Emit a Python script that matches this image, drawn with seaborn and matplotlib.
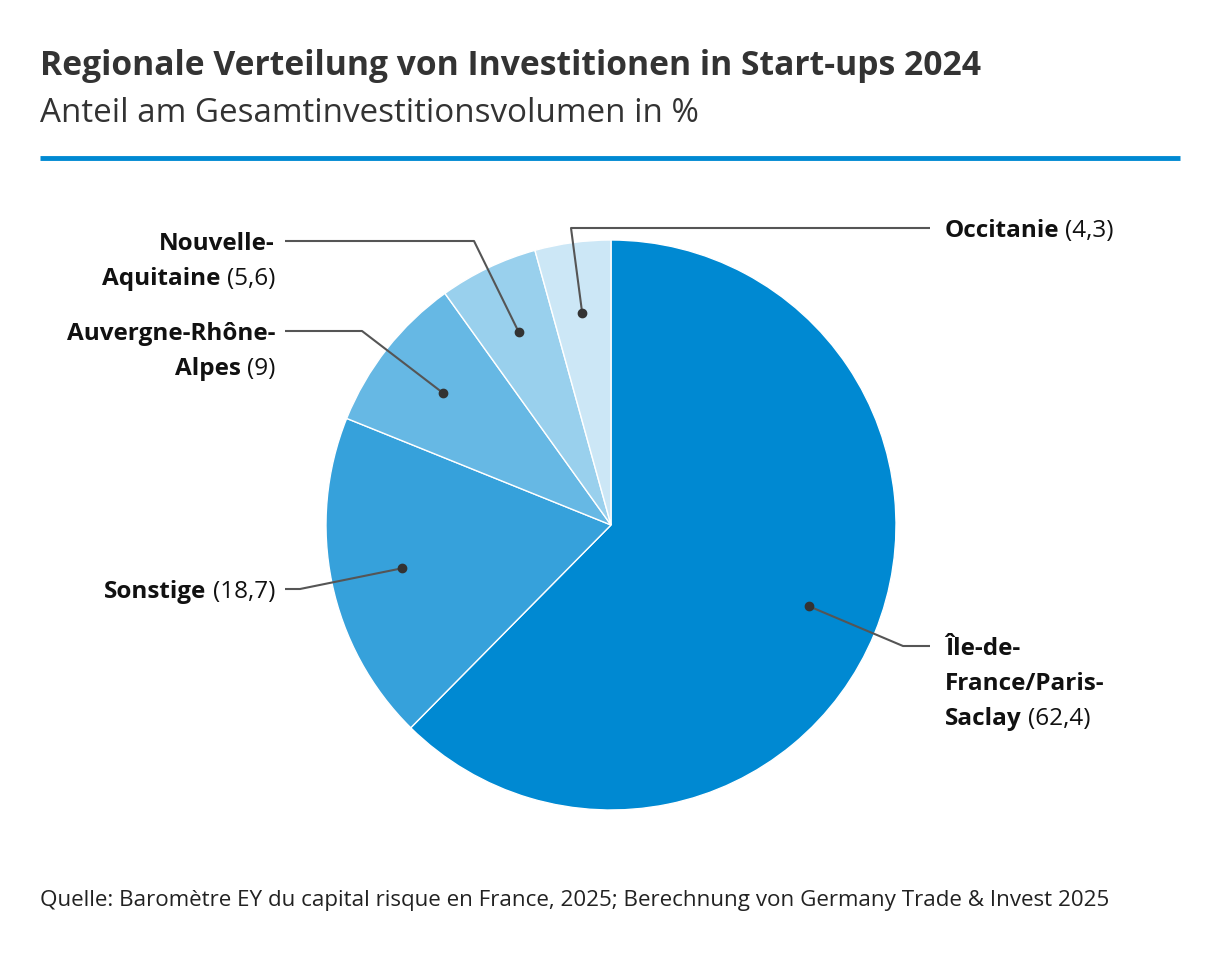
import numpy as np
import matplotlib
matplotlib.use("Agg")
import matplotlib.pyplot as plt
import seaborn as sns

# ---------- data ----------
regions = ["Île-de-France/Paris-Saclay", "Sonstige", "Auvergne-Rhône-Alpes",
           "Nouvelle-Aquitaine", "Occitanie"]
shares = [62.4, 18.7, 9.0, 5.6, 4.3]
value_labels = ["62,4", "18,7", "9", "5,6", "4,3"]
label_lines = [["Île-de-", "France/Paris-", "Saclay"],
               ["Sonstige"],
               ["Auvergne-Rhône-", "Alpes"],
               ["Nouvelle-", "Aquitaine"],
               ["Occitanie"]]
colors = ["#0089d2", "#36a1db", "#66b8e4", "#99d0ed", "#cce7f6"]

title = "Regionale Verteilung von Investitionen in Start-ups 2024"
subtitle = "Anteil am Gesamtinvestitionsvolumen in %"
source = "Quelle: Baromètre EY du capital risque en France, 2025; Berechnung von Germany Trade & Invest 2025"

# ---------- layout (pixel coords, y from top) ----------
W, H = 1220, 954
cx, cy, R = 611, 526, 285
# elbow, line end, text anchor x, alignment
leaders = [
    ((903, 647), (930, 647), 945, "left"),
    ((300, 590), (285, 590), 275, "right"),
    ((362, 332), (285, 332), 275, "right"),
    ((474, 242), (285, 242), 275, "right"),
    ((571, 229), (930, 229), 945, "left"),
]

sns.set_theme(style="white")
plt.rcParams["font.family"] = ["Open Sans", "DejaVu Sans"]

fig = plt.figure(figsize=(W / 100, H / 100), dpi=100)
ax = fig.add_axes([0, 0, 1, 1])


def Y(y):
    return H - y


wedges, _ = ax.pie(
    shares, colors=sns.color_palette(colors), startangle=90, counterclock=False,
    center=(cx, Y(cy)), radius=R, frame=True,
    wedgeprops=dict(edgecolor="white", linewidth=1),
)
ax.set_xlim(0, W)
ax.set_ylim(0, H)
ax.axis("off")

renderer = fig.canvas.get_renderer()
fs = 17.5
line_h = 35
dark = "#111111"

for w, lines, val, (elb, end, tx, ha) in zip(wedges, label_lines, value_labels, leaders):
    mid = np.deg2rad((w.theta1 + w.theta2) / 2)
    dx = cx + 0.75 * R * np.cos(mid)
    dy = Y(cy) + 0.75 * R * np.sin(mid)
    ax.plot([dx, elb[0], end[0]], [dy, Y(elb[1]), Y(end[1])],
            color="#555555", lw=1.5, solid_capstyle="butt", zorder=3)
    ax.plot([dx], [dy], "o", color="#333333", ms=6, zorder=4)

    y0 = end[1] + 8
    for i, ln in enumerate(lines):
        yy = Y(y0 + i * line_h)
        last = i == len(lines) - 1
        if ha == "left":
            t = ax.text(tx, yy, ln, ha="left", va="baseline", fontsize=fs,
                        fontweight="bold", color=dark)
            if last:
                bb = t.get_window_extent(renderer)
                ax.text(bb.x1 + 6, yy, f"({val})", ha="left", va="baseline",
                        fontsize=fs, color=dark)
        else:
            x = tx
            if last:
                t = ax.text(x, yy, f"({val})", ha="right", va="baseline",
                            fontsize=fs, color=dark)
                bb = t.get_window_extent(renderer)
                x = bb.x0 - 6
            ax.text(x, yy, ln, ha="right", va="baseline", fontsize=fs,
                    fontweight="bold", color=dark)

# ---------- titles ----------
fig.text(40 / W, 1 - 75 / H, title, ha="left", va="baseline", fontsize=24.2,
         fontweight="bold", color="#333333")
fig.text(40 / W, 1 - 122 / H, subtitle, ha="left", va="baseline", fontsize=23.9,
         color="#333333")
ax.plot([40, 1180], [Y(159), Y(159)], color="#0089d2", lw=3.5,
        solid_capstyle="butt")
fig.text(40 / W, 1 - 906 / H, source, ha="left", va="baseline", fontsize=16.1,
         color="#222222")

fig.savefig("out.png", dpi=100, facecolor="white")
